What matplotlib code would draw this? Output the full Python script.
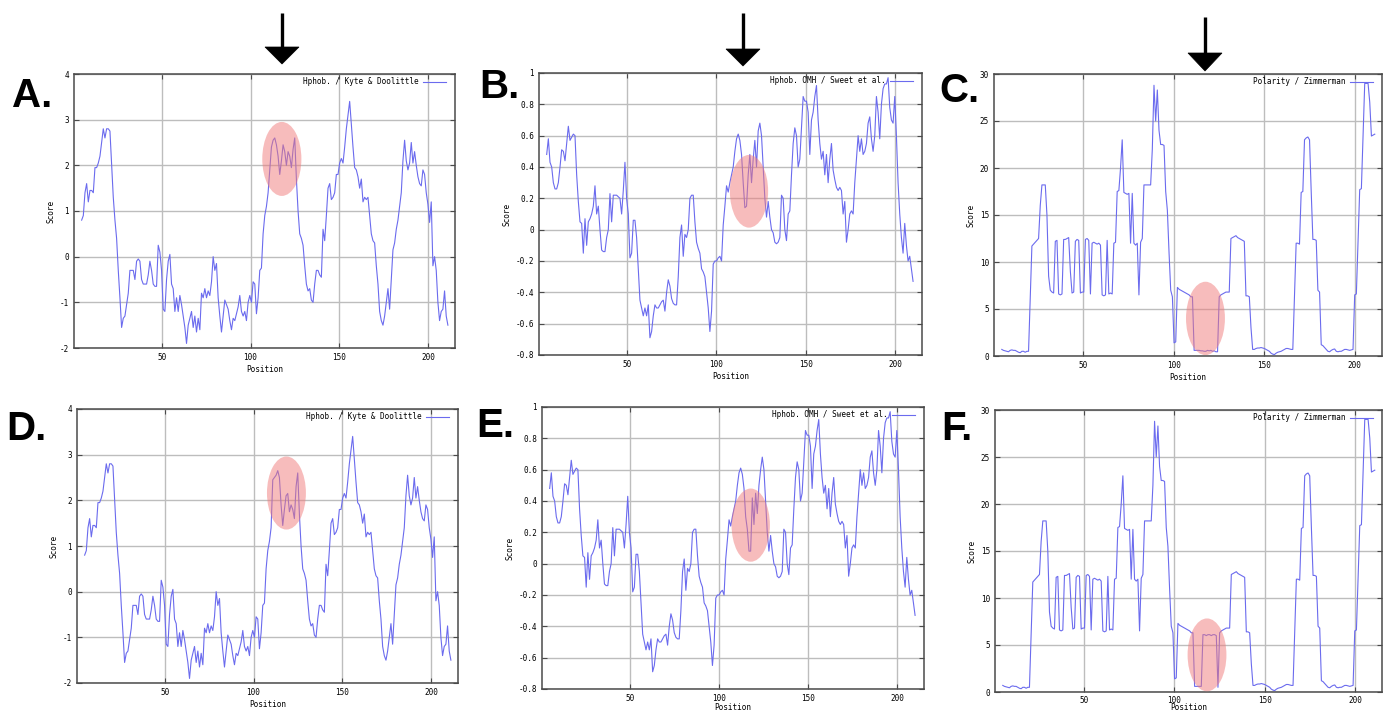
import numpy as np
import matplotlib
matplotlib.use('Agg')
import matplotlib.pyplot as plt
from matplotlib.patches import Ellipse, Polygon
from matplotlib.lines import Line2D

# ---------------- data ----------------
kd_a = [0.8, 0.9, 1.4, 1.6, 1.2, 1.45, 1.45, 1.4, 1.95, 1.95,
        2.05, 2.2, 2.5, 2.8, 2.6, 2.8, 2.8, 2.75, 2.0, 1.3,
        0.8, 0.4, -0.3, -0.9, -1.55, -1.35, -1.3, -1.05, -0.8, -0.3,
        -0.3, -0.3, -0.5, -0.1, -0.05, -0.1, -0.5, -0.6, -0.6, -0.6,
        -0.4, -0.1, -0.3, -0.6, -0.65, -0.65, 0.25, 0.1, -0.3, -1.15,
        -1.2, -0.5, -0.1, 0.05, -0.6, -0.7, -1.2, -0.9, -1.2, -0.85,
        -1.05, -1.3, -1.55, -1.9, -1.5, -1.35, -1.2, -1.55, -1.3, -1.65,
        -1.35, -1.6, -0.8, -0.9, -0.7, -0.9, -0.75, -0.85, -0.55, 0.0,
        -0.3, -0.15, -0.9, -1.3, -1.65, -1.3, -0.95, -1.05, -1.15, -1.4,
        -1.6, -1.35, -1.4, -1.25, -1.1, -0.85, -1.2, -1.3, -1.2, -1.4,
        -1.0, -0.85, -1.0, -0.55, -0.6, -1.25, -0.9, -0.3, -0.25, 0.5,
        0.9, 1.1, 1.4, 1.9, 2.4, 2.55, 2.6, 2.45, 2.2, 1.8,
        2.1, 2.45, 2.3, 2.0, 2.3, 2.2, 1.95, 2.35, 2.6, 1.7,
        1.0, 0.5, 0.4, 0.25, -0.2, -0.6, -0.75, -0.7, -0.95, -1.0,
        -0.6, -0.3, -0.3, -0.4, -0.45, 0.6, 0.35, 0.9, 1.5, 1.6,
        1.25, 1.3, 1.4, 1.8, 1.8, 2.05, 2.15, 2.05, 2.4, 2.8,
        3.1, 3.4, 2.9, 2.4, 1.95, 1.9, 1.75, 1.5, 1.7, 1.2,
        1.3, 1.25, 1.3, 0.9, 0.5, 0.35, 0.3, -0.2, -0.6, -1.2,
        -1.4, -1.5, -1.3, -1.0, -0.7, -1.15, -0.5, 0.15, 0.3, 0.6,
        0.8, 1.1, 1.4, 2.1, 2.55, 2.1, 1.9, 2.05, 2.5, 2.05,
        2.3, 2.0, 1.75, 1.6, 1.55, 1.9, 1.8, 1.4, 1.15, 0.75,
        1.2, -0.2, 0.0, -0.3, -1.0, -1.4, -1.2, -1.15, -0.75, -1.3,
        -1.5]
kd_d_segment = [2.45, 2.5, 2.55, 2.65, 2.5, 1.9, 1.45, 1.8, 2.1, 2.15,
                1.75, 1.9, 1.8, 1.6, 2.3, 2.6, 1.7, 1.0]
kd_d_start = 113

omh_b = [0.48, 0.58, 0.43, 0.40, 0.30, 0.26, 0.26, 0.30, 0.40, 0.51,
         0.50, 0.44, 0.55, 0.66, 0.57, 0.59, 0.61, 0.60, 0.35, 0.18,
         0.05, 0.04, -0.15, 0.07, -0.10, 0.05, 0.07, 0.10, 0.15, 0.28,
         0.10, 0.15, 0.00, -0.13, -0.14, -0.14, -0.05, 0.00, 0.23, 0.05,
         0.22, 0.22, 0.22, 0.21, 0.20, 0.10, 0.25, 0.43, 0.20, 0.10,
         -0.18, -0.15, 0.06, 0.06, -0.05, -0.25, -0.45, -0.50, -0.55, -0.50,
         -0.55, -0.48, -0.69, -0.65, -0.55, -0.48, -0.50, -0.50, -0.48, -0.46,
         -0.45, -0.52, -0.40, -0.32, -0.36, -0.44, -0.47, -0.48, -0.48, -0.30,
         -0.05, 0.03, -0.17, -0.03, -0.05, 0.00, 0.20, 0.22, 0.22, 0.05,
         -0.08, -0.12, -0.15, -0.25, -0.27, -0.30, -0.40, -0.50, -0.65, -0.52,
         -0.22, -0.20, -0.20, -0.18, -0.17, -0.20, 0.03, 0.15, 0.28, 0.24,
         0.30, 0.35, 0.40, 0.50, 0.58, 0.61, 0.57, 0.48, 0.30, 0.14,
         0.15, 0.35, 0.48, 0.30, 0.45, 0.57, 0.40, 0.63, 0.68, 0.60,
         0.40, 0.20, 0.08, 0.18, 0.08, 0.00, -0.02, -0.08, -0.09, -0.08,
         -0.05, 0.22, 0.20, 0.00, -0.07, 0.10, 0.12, 0.35, 0.55, 0.65,
         0.60, 0.40, 0.45, 0.65, 0.85, 0.82, 0.82, 0.75, 0.48, 0.70,
         0.75, 0.85, 0.92, 0.70, 0.55, 0.45, 0.50, 0.35, 0.48, 0.30,
         0.45, 0.55, 0.38, 0.32, 0.27, 0.25, 0.27, 0.25, 0.10, 0.18,
         -0.08, 0.00, 0.10, 0.12, 0.10, 0.30, 0.45, 0.60, 0.50, 0.58,
         0.48, 0.50, 0.55, 0.68, 0.72, 0.58, 0.50, 0.60, 0.85, 0.75,
         0.58, 0.80, 0.90, 0.93, 0.93, 0.97, 0.78, 0.70, 0.68, 0.85,
         0.60, 0.30, 0.10, -0.05, -0.15, 0.04, -0.10, -0.20, -0.17, -0.25,
         -0.33]
omh_e_segment = [0.22, 0.08, 0.08, 0.42, 0.25, 0.45, 0.32, 0.50, 0.60]
omh_e_start = 119

pol_c = [0.7, 0.6, 0.55, 0.5, 0.45, 0.6, 0.65, 0.6, 0.6, 0.5,
         0.4, 0.35, 0.5, 0.5, 0.4, 0.5, 0.5, 6.0, 11.7, 11.9,
         12.1, 12.3, 12.5, 16.0, 18.2, 18.2, 18.2, 15.0, 8.5, 7.0,
         6.8, 6.7, 12.2, 12.3, 6.6, 6.5, 6.6, 12.4, 12.4, 12.5,
         12.6, 9.0, 6.7, 6.8, 12.2, 12.4, 12.3, 6.7, 6.8, 6.8,
         12.4, 12.5, 12.3, 6.6, 12.0, 12.1, 12.0, 11.9, 12.0, 11.8,
         6.5, 6.4, 6.5, 12.3, 6.6, 6.7, 6.6, 12.0, 12.1, 17.5,
         17.6, 20.0, 23.0, 17.4, 17.3, 17.2, 17.3, 12.0, 17.3, 12.0,
         11.8, 12.0, 6.5, 12.1, 12.5, 18.2, 18.2, 18.2, 18.2, 18.2,
         22.0, 28.8, 25.0, 28.3, 24.0, 22.5, 22.5, 22.4, 17.5, 15.5,
         11.0, 7.0, 6.3, 1.4, 1.5, 7.3, 7.1, 7.0, 6.9, 6.8,
         6.7, 6.6, 6.5, 6.3, 6.3, 0.6, 0.6, 0.6, 0.6, 0.55,
         0.55, 0.5, 0.5, 0.6, 0.55, 0.6, 0.5, 0.55, 0.45, 0.45,
         6.3, 6.5, 6.6, 6.7, 6.8, 6.8, 6.8, 12.5, 12.6, 12.7,
         12.8, 12.6, 12.5, 12.4, 12.3, 12.2, 6.4, 6.4, 6.3, 3.0,
         0.7, 0.7, 0.8, 0.85, 0.85, 0.9, 0.85, 0.8, 0.7, 0.6,
         0.5, 0.3, 0.2, 0.15, 0.3, 0.4, 0.45, 0.5, 0.6, 0.7,
         0.8, 0.8, 0.75, 0.7, 0.7, 6.5, 12.0, 12.0, 11.9, 17.4,
         17.5, 23.0, 23.2, 23.3, 23.0, 17.5, 12.4, 12.4, 12.3, 7.0,
         6.8, 1.2, 1.1, 0.9, 0.7, 0.5, 0.45, 0.6, 0.7, 0.75,
         0.5, 0.45, 0.5, 0.5, 0.6, 0.7, 0.7, 0.65, 0.6, 0.65,
         0.7, 6.5, 6.6, 12.0, 17.7, 17.8, 23.5, 29.0, 29.0, 29.0,
         27.0, 23.4, 23.5, 23.6]
pol_f_segment = [0.6, 6.1, 6.1, 6.0, 6.1, 6.1, 6.0, 6.1, 6.1, 6.0, 0.5]
pol_f_start = 119

kd_d = kd_a[:kd_d_start] + kd_d_segment + kd_a[kd_d_start + len(kd_d_segment):]
omh_e = omh_b[:omh_e_start] + omh_e_segment + omh_b[omh_e_start + len(omh_e_segment):]
pol_f = pol_c[:pol_f_start] + pol_f_segment + pol_c[pol_f_start + len(pol_f_segment):]

kd_pos = np.linspace(5, 211, len(kd_a))
omh_pos = np.linspace(5, 210, len(omh_b))
pol_pos = np.linspace(5, 211, len(pol_c))

panel_letters = ['A.', 'B.', 'C.', 'D.', 'E.', 'F.']
legend_labels = ['Hphob. / Kyte & Doolittle', 'Hphob. OMH / Sweet et al.',
                 'Polarity / Zimmerman']
x_ticks = [50, 100, 150, 200]
kd_ticks = [-2, -1, 0, 1, 2, 3, 4]
omh_ticks = [-0.8, -0.6, -0.4, -0.2, 0, 0.2, 0.4, 0.6, 0.8, 1]
pol_ticks = [0, 5, 10, 15, 20, 25, 30]
# highlighted region: centre x, centre y, width, height
highlights = [(117.6, 2.14, 22.0, 1.62), (118.2, 0.245, 21.4, 0.464), (117.5, 4.0, 21.5, 7.8),
              (118.5, 2.16, 21.9, 1.60), (117.8, 0.246, 21.5, 0.467), (118.1, 3.95, 21.5, 7.75)]

# ---------------- layout ----------------
W, H = 1388, 711
fig = plt.figure(figsize=(W / 100, H / 100), dpi=100)

# axes boxes in pixels: left, right, top, bottom
boxes = [(74, 455, 74, 348), (539, 922, 73, 355), (994, 1382, 74, 356),
         (77, 458, 409, 683), (542, 924, 407, 689), (995, 1382, 410, 692)]
xlabel_pads = [2, 2, 2, 2, 0.0, -1.8]
xtick_pads = [3.5, 3.5, 3.5, 3.5, 3.5, 3.0]

series = [(kd_pos, kd_a, kd_ticks, (-2, 4), legend_labels[0]),
          (omh_pos, omh_b, omh_ticks, (-0.8, 1), legend_labels[1]),
          (pol_pos, pol_c, pol_ticks, (0, 30), legend_labels[2]),
          (kd_pos, kd_d, kd_ticks, (-2, 4), legend_labels[0]),
          (omh_pos, omh_e, omh_ticks, (-0.8, 1), legend_labels[1]),
          (pol_pos, pol_f, pol_ticks, (0, 30), legend_labels[2])]

MONO = 'DejaVu Sans Mono'
LINE_C = '#6b6bee'
GRID_C = '#bdbdbd'
FRAME_C = '#4a4a4a'


def fmt(v):
    s = f'{v:g}'
    return '0' if s in ('-0', '0.0') else s


for (l, r, t, b), (xp, yv, yt, ylim, lab), hl, xpad, tpad in zip(
        boxes, series, highlights, xlabel_pads, xtick_pads):
    w_px, h_px = r - l, b - t
    ax = fig.add_axes([l / W, 1 - b / H, w_px / W, h_px / H])
    ax.plot(xp, yv, color=LINE_C, lw=0.8, label=lab, zorder=3)
    ax.set_xlim(0.7, 215)
    ax.set_ylim(*ylim)
    ax.set_xticks(x_ticks)
    ax.set_xticklabels([str(v) for v in x_ticks])
    ax.set_yticks(yt)
    ax.set_yticklabels([fmt(v) for v in yt])
    ax.grid(True, color=GRID_C, lw=1.0, zorder=0)
    ax.set_axisbelow(True)
    for sp in ax.spines.values():
        sp.set_color(FRAME_C)
        sp.set_linewidth(1.1)
    ax.tick_params(direction='in', length=3.5, width=0.8, color=FRAME_C,
                   top=True, right=True, labelsize=5.5, pad=3.5)
    ax.tick_params(axis='x', pad=tpad)
    for tl in ax.get_xticklabels() + ax.get_yticklabels():
        tl.set_family(MONO)
    ax.set_xlabel('Position', fontsize=5.6, family=MONO, labelpad=xpad)
    ax.set_ylabel('Score', fontsize=5.6, family=MONO, labelpad=3)
    ell = Ellipse((hl[0], hl[1]), hl[2], hl[3], facecolor='#f07a7a', alpha=0.5,
                  edgecolor='none', zorder=4)
    ax.add_patch(ell)
    ax.legend(loc='upper right', frameon=False, markerfirst=False,
              prop={'family': MONO, 'size': 5.5}, handlelength=3.0,
              handletextpad=0.6, borderaxespad=0, borderpad=0.3,
              bbox_to_anchor=(1 - 6.5 / w_px, 1 - 1.0 / h_px))

# ---------------- overlay: letters and arrows ----------------
ov = fig.add_axes([0, 0, 1, 1])
ov.set_xlim(0, W)
ov.set_ylim(H, 0)
ov.axis('off')
ov.patch.set_alpha(0)

letter_pos = [(12, 107), (479, 98), (939, 102), (6, 440), (476, 437), (941, 440)]
for txt, (x, y) in zip(panel_letters, letter_pos):
    ov.text(x, y, txt, fontsize=29, fontweight='bold', family='Liberation Sans',
            ha='left', va='baseline', color='black')

# arrows: x, shaft top, head base, tip
arrows = [(282, 13, 47, 64), (743, 13, 49, 66), (1205, 17, 53, 71)]
for x, top, base, tip in arrows:
    ov.add_line(Line2D([x, x], [top, base + 1], color='black', lw=2.4,
                       solid_capstyle='butt'))
    ov.add_patch(Polygon([(x - 17, base), (x + 17, base), (x, tip)],
                         closed=True, facecolor='black', edgecolor='black', lw=0.5))

fig.savefig('out.png', dpi=100)
